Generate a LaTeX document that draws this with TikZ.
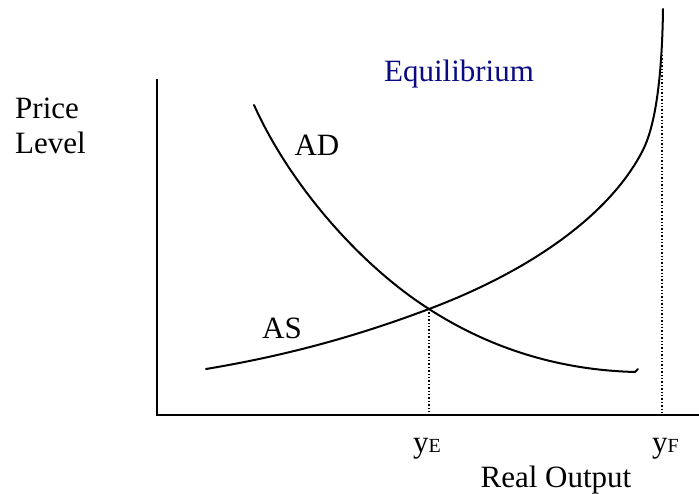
\documentclass[tikz,border=0pt]{standalone}
\usepackage{fontspec}
\setmainfont{Liberation Serif}
\usetikzlibrary{positioning}
\definecolor{eqblue}{RGB}{10,10,130}
\begin{document}
\begin{tikzpicture}[x=1pt,y=-1pt,
axis/.style={line width=2pt},curve/.style={line width=2pt,line cap=round},
guide/.style={line width=1.4pt,dotted},lab/.style={font=\fontsize{31}{35}\selectfont,inner sep=0pt}]
\useasboundingbox (0,0) rectangle (699,494);
% axes
\coordinate (top) at (157,79);\coordinate (origin) at (157,415);\coordinate (right) at (699,415);
\draw[axis] (top) -- (origin) -- (right);
% demand and supply
\coordinate (E) at (429,309);
\draw[curve] (254,105) .. controls (290,185) and (360,265) .. (E) .. controls (491,349) and (560,370) .. (635,372) -- (638,369);
\draw[curve] (206,369) .. controls (290,355) and (360,335) .. (E) .. controls (530,271) and (610,215) .. (643,150) .. controls (655,126) and (662,80) .. (663,9);
% guides
\coordinate (Ex) at (429,415);
\coordinate (F) at (662,55);\coordinate (Fx) at (662,415);
\draw[guide] (E) -- (Ex);
\draw[guide] (F) -- (Fx);
% labels
\node[lab,anchor=base west,align=left] (price) at (15,154) {Price\\Level};
\node[lab] (ad) at (317,145) {AD};
\node[lab] (as) at (282,328) {AS};
\node[lab,text=eqblue,anchor=base] (eq) at (459,82) {Equilibrium};
\node[lab,anchor=base west] (ye) at (413,452) {y{\fontsize{20}{22}\selectfont E}};
\node[lab,anchor=base west] (yf) at (652,452) {y{\fontsize{20}{22}\selectfont F}};
\node[lab,anchor=base] (out) at (556,487) {Real Output};
\end{tikzpicture}
\end{document}
